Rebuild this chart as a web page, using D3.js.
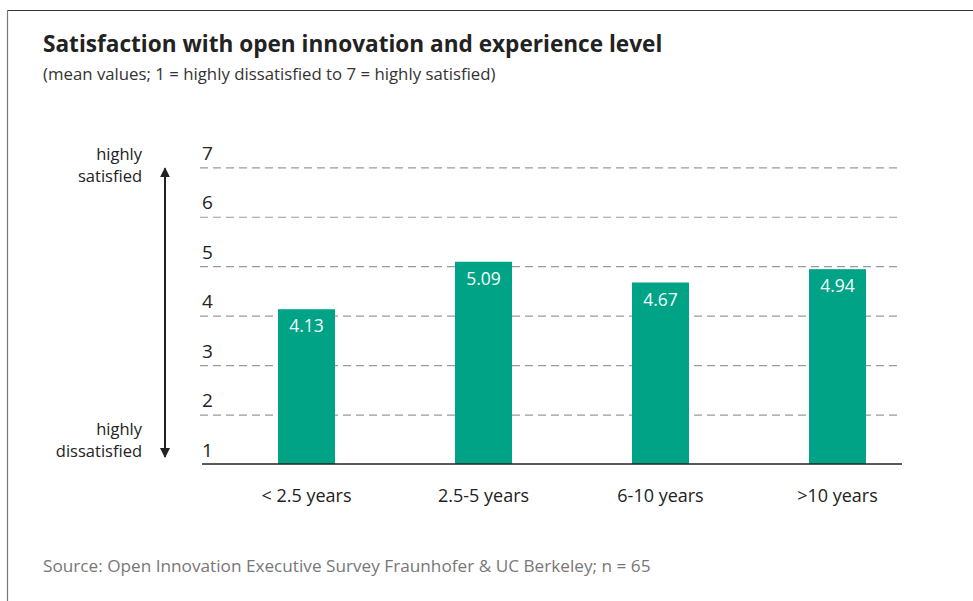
<!DOCTYPE html>
<html>
<head>
<meta charset="utf-8">
<script src="https://cdn.jsdelivr.net/npm/d3@7"></script>
<style>
  html, body { margin: 0; padding: 0; background: #fff; }
  svg { display: block; }
  text { font-family: "Open Sans", "Noto Sans", sans-serif; }
</style>
</head>
<body>
<svg id="chart" width="973" height="601"></svg>
<script>
// Experience-level groups and their mean satisfaction (1–7 scale)
const categories = ["< 2.5 years", "2.5-5 years", "6-10 years", ">10 years"];
const meanValues = [4.13, 5.09, 4.67, 4.94];
const tickValues = [1, 2, 3, 4, 5, 6, 7];
const titleText = "Satisfaction with open innovation and experience level";
const subtitleText = "(mean values; 1 = highly dissatisfied to 7 = highly satisfied)";
const sourceText = "Source: Open Innovation Executive Survey Fraunhofer & UC Berkeley; n = 65";
const scaleEnds = { top: ["highly", "satisfied"], bottom: ["highly", "dissatisfied"] };

const barColor = "#00a386";
const svg = d3.select("#chart");

// frame: top rule and left rule
svg.append("line").attr("x1", 7.5).attr("x2", 973).attr("y1", 10.5).attr("y2", 10.5)
  .attr("stroke", "#333").attr("stroke-width", 1.2);
svg.append("line").attr("x1", 7.5).attr("x2", 7.5).attr("y1", 10.5).attr("y2", 601)
  .attr("stroke", "#777").attr("stroke-width", 1.2);

// headings
svg.append("text").attr("x", 43).attr("y", 52).text(titleText)
  .attr("font-size", 22.6).attr("font-weight", 700).attr("fill", "#222");
svg.append("text").attr("x", 43).attr("y", 80).text(subtitleText)
  .attr("font-size", 16.8).attr("fill", "#333");

// scales
const y = d3.scaleLinear().domain([1, 7]).range([464, 167.3]);
const plotLeft = 200, plotRight = 902;
const step = 177, barW = 57;
const pad = 1 - barW / step;
const x = d3.scaleBand().domain(categories)
  .range([218, 218 + step * categories.length])
  .paddingInner(pad).paddingOuter(pad / 2);

// dashed gridlines (values 2..7)
svg.append("g").selectAll("line").data(tickValues.filter(v => v > 1)).join("line")
  .attr("x1", plotLeft).attr("x2", plotRight)
  .attr("y1", d => y(d) + 0.5).attr("y2", d => y(d) + 0.5)
  .attr("stroke", "#9a9a9a").attr("stroke-width", 1.2)
  .attr("stroke-dasharray", "8,5");

// y tick labels, sitting just above each line
const yAxis = d3.axisLeft(y).tickValues(tickValues).tickFormat(d3.format("d"))
  .tickSize(0).tickPadding(0);
const yg = svg.append("g").attr("transform", `translate(${plotLeft + 2},0)`).call(yAxis);
yg.select(".domain").remove();
yg.selectAll("text")
  .attr("text-anchor", "start").attr("dy", null).attr("y", -8)
  .attr("font-size", 19).attr("fill", "#222");

// bars
svg.append("g").selectAll("rect").data(meanValues).join("rect")
  .attr("x", (d, i) => x(categories[i]))
  .attr("width", x.bandwidth())
  .attr("y", d => y(d))
  .attr("height", d => y(1) - y(d))
  .attr("fill", barColor);

// value labels inside bars
svg.append("g").selectAll("text").data(meanValues).join("text")
  .attr("x", (d, i) => x(categories[i]) + x.bandwidth() / 2)
  .attr("y", d => y(d) + 23)
  .attr("text-anchor", "middle").attr("font-size", 17.5).attr("fill", "#f4fffb")
  .text(d => d.toFixed(2));

// baseline and category axis
const xAxis = d3.axisBottom(x).tickSize(0).tickPadding(0);
const xg = svg.append("g").attr("transform", `translate(0,${y(1)})`).call(xAxis);
xg.select(".domain").remove();
xg.selectAll("text").attr("dy", null).attr("y", 38).attr("font-size", 18).attr("fill", "#222");
svg.append("line").attr("x1", plotLeft + 2).attr("x2", plotRight)
  .attr("y1", y(1)).attr("y2", y(1)).attr("stroke", "#222").attr("stroke-width", 1.5);

// scale-direction arrow
const arrowX = 165;
svg.append("defs").append("marker").attr("id", "head")
  .attr("viewBox", "0 0 10 10").attr("refX", 9).attr("refY", 5)
  .attr("markerWidth", 10).attr("markerHeight", 10).attr("markerUnits", "userSpaceOnUse")
  .attr("orient", "auto-start-reverse")
  .append("path").attr("d", "M0,0 L10,5 L0,10 Z").attr("fill", "#222");
svg.append("line").attr("x1", arrowX).attr("x2", arrowX)
  .attr("y1", y(7) + 1).attr("y2", y(1) - 7)
  .attr("stroke", "#222").attr("stroke-width", 2)
  .attr("marker-start", "url(#head)").attr("marker-end", "url(#head)");

// arrow end labels
const endLabels = [
  { lines: scaleEnds.top, base: 160 },
  { lines: scaleEnds.bottom, base: 435 }
];
endLabels.forEach(e => {
  e.lines.forEach((t, i) => {
    svg.append("text").attr("x", 142).attr("y", e.base + i * 22)
      .attr("text-anchor", "end").attr("font-size", 16.5).attr("fill", "#222").text(t);
  });
});

// source note
svg.append("text").attr("x", 43).attr("y", 572).text(sourceText)
  .attr("font-size", 17.2).attr("fill", "#777");
</script>
</body>
</html>
